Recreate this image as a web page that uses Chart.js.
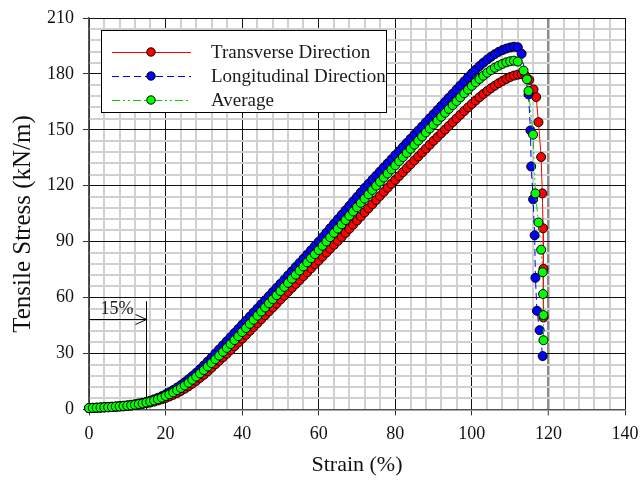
<!DOCTYPE html>
<html>
<head>
<meta charset="utf-8">
<title>Tensile Stress vs Strain</title>
<script src="https://cdn.jsdelivr.net/npm/chart.js@4.4.0/dist/chart.umd.min.js"></script>
<style>
  html, body { margin: 0; padding: 0; background: #fff; }
  #wrap { width: 640px; height: 487px; }
</style>
</head>
<body>
<div id="wrap"><canvas id="chart" width="640" height="487"></canvas></div>
<script>
// strain steps (%) of the logged test points before rupture
const strainSteps = [
  0, 1, 2, 3, 4, 5, 6, 7, 8, 9, 10, 11, 12, 13, 14, 15, 16, 17, 18, 19,
  20, 21, 22, 23, 24, 25, 26, 27, 28, 29, 30, 31, 32, 33, 34, 35, 36, 37, 38, 39,
  40, 41, 42, 43, 44, 45, 46, 47, 48, 49, 50, 51, 52, 53, 54, 55, 56, 57, 58, 59,
  60, 61, 62, 63, 64, 65, 66, 67, 68, 69, 70, 71, 72, 73, 74, 75, 76, 77, 78, 79,
  80, 81, 82, 83, 84, 85, 86, 87, 88, 89, 90, 91, 92, 93, 94, 95, 96, 97, 98, 99,
  100, 101, 102, 103, 104, 105, 106, 107, 108, 109, 110, 111, 112, 113, 114, 115
];

// Transverse direction (kN/m)
const transStress = [
  0.6, 0.7, 0.8, 0.9, 1.0, 1.1, 1.2, 1.3, 1.5, 1.6,
  1.8, 2.0, 2.3, 2.6, 2.9, 3.3, 3.7, 4.2, 4.8, 5.4,
  6.1, 6.9, 7.8, 8.8, 9.9, 11.1, 12.4, 13.8, 15.3, 16.9,
  18.6, 20.4, 22.3, 24.2, 26.1, 28.0, 29.9, 31.9, 33.9, 35.9,
  37.9, 40.0, 42.1, 44.2, 46.3, 48.4, 50.5, 52.6, 54.7, 56.8,
  58.9, 61.0, 63.1, 65.2, 67.3, 69.4, 71.5, 73.6, 75.7, 77.8,
  79.9, 82.0, 84.1, 86.2, 88.3, 90.4, 92.5, 94.7, 96.9, 99.1,
  101.3, 103.5, 105.7, 107.9, 110.1, 112.3, 114.5, 116.7, 118.9, 121.0,
  123.1, 125.2, 127.3, 129.4, 131.5, 133.6, 135.7, 137.8, 139.9, 142.0,
  144.1, 146.1, 148.1, 150.1, 152.1, 154.1, 156.1, 158.1, 160.1, 162.0,
  163.9, 165.7, 167.5, 169.2, 170.8, 172.3, 173.7, 175.0, 176.2, 177.3,
  178.3, 179.1, 179.6, 179.8, 179.0, 176.8
];
const transDropStrain = [116.1, 116.8, 117.4, 118.1, 118.4, 118.6, 118.7, 118.7];
const transDropStress = [171.7, 167.6, 154.1, 135.4, 115.9, 97.2, 75.4, 49.3];

// Longitudinal direction (kN/m)
const longStress = [
  0.8, 0.9, 1.0, 1.1, 1.2, 1.3, 1.5, 1.6, 1.8, 2.0,
  2.2, 2.5, 2.8, 3.2, 3.6, 4.1, 4.7, 5.4, 6.2, 7.1,
  8.1, 9.2, 10.4, 11.7, 13.1, 14.6, 16.2, 17.9, 19.7, 21.6,
  23.6, 25.7, 27.8, 30.0, 32.2, 34.4, 36.6, 38.8, 41.0, 43.2,
  45.4, 47.6, 49.8, 52.0, 54.2, 56.4, 58.6, 60.8, 63.0, 65.2,
  67.4, 69.6, 71.9, 74.1, 76.4, 78.6, 80.9, 83.1, 85.4, 87.7,
  90.0, 92.4, 94.8, 97.2, 99.6, 102.0, 104.4, 106.8, 109.2, 111.6,
  114.0, 116.4, 118.8, 121.0, 123.2, 125.4, 127.6, 129.8, 132.0, 134.2,
  136.4, 138.6, 140.8, 143.0, 145.2, 147.4, 149.6, 151.8, 154.0, 156.2,
  158.4, 160.6, 162.8, 165.0, 167.2, 169.4, 171.6, 173.8, 176.0, 178.2,
  180.3, 182.3, 184.2, 186.0, 187.7, 189.2, 190.6, 191.8, 192.8, 193.6,
  194.2, 194.6, 194.3, 190.8
];
const longDropStrain = [114.8, 115.3, 115.5, 116.0, 116.4, 116.6, 117.0, 117.7, 118.5];
const longDropStress = [169.0, 149.7, 130.3, 112.7, 93.4, 70.6, 52.9, 42.5, 28.6];

// Average of both directions (kN/m)
const avgStress = [
  0.7, 0.8, 0.9, 1.0, 1.1, 1.2, 1.3, 1.5, 1.6, 1.8,
  2.0, 2.2, 2.5, 2.9, 3.2, 3.7, 4.2, 4.8, 5.5, 6.3,
  7.2, 8.1, 9.1, 10.3, 11.5, 12.8, 14.3, 15.9, 17.6, 19.3,
  21.1, 23.0, 24.9, 26.9, 28.9, 30.9, 33.0, 35.1, 37.2, 39.3,
  41.5, 43.7, 45.9, 48.1, 50.3, 52.5, 54.7, 56.9, 59.1, 61.3,
  63.5, 65.7, 67.9, 70.1, 72.3, 74.5, 76.7, 78.9, 81.1, 83.3,
  85.5, 87.8, 90.1, 92.4, 94.7, 97.0, 99.3, 101.6, 103.9, 106.2,
  108.5, 110.8, 113.1, 115.4, 117.7, 120.0, 122.2, 124.4, 126.6, 128.8,
  131.0, 133.2, 135.4, 137.6, 139.8, 142.0, 144.2, 146.4, 148.6, 150.7,
  152.8, 154.9, 157.0, 159.1, 161.2, 163.3, 165.4, 167.5, 169.6, 171.6,
  173.6, 175.5, 177.3, 179.0, 180.6, 182.0, 183.3, 184.4, 185.4, 186.2,
  186.8, 187.1, 186.6
];
const avgDropStrain = [113.5, 114.4, 114.8, 116.0, 116.6, 117.4, 118.1, 118.5, 118.6, 118.7, 118.7];
const avgDropStress = [181.8, 177.1, 170.8, 147.4, 115.9, 100.3, 85.7, 73.6, 61.9, 50.6, 37.1];

const seriesNames = ['Transverse Direction', 'Longitudinal Direction', 'Average'];
const yTitle = 'Tensile Stress (kN/m)';
const xLabelStep = 20, xGridStep = 4;
const yLabelStep = 30, yGridStep = 6;
const markStrain = 15;   // reference strain marker

const serif = 'Liberation Serif, "Times New Roman", serif';

function toPoints(stress, dropStrain, dropStress) {
  const pts = stress.map((v, i) => ({ x: strainSteps[i], y: v }));
  dropStrain.forEach((s, i) => pts.push({ x: s, y: dropStress[i] }));
  return pts;
}

function stepTicks(min, max, step) {
  const out = [];
  for (let v = min; v <= max + 1e-9; v += step) out.push({ value: Math.round(v * 1000) / 1000 });
  return out;
}

const tickVal = ctx => (ctx.tick ? ctx.tick.value : 0);

// legend drawn inside the plot in a framed box
const boxLegend = {
  id: 'boxLegend',
  afterDraw(chart) {
    const ctx = chart.ctx;
    ctx.save();
    ctx.fillStyle = '#fff';
    ctx.fillRect(101.5, 30.5, 285, 82);
    ctx.strokeStyle = '#000';
    ctx.lineWidth = 1;
    ctx.strokeRect(101.5, 30.5, 285, 82);
    chart.data.datasets.forEach((ds, i) => {
      const y = 52 + i * 24;
      ctx.setLineDash(ds.borderDash || []);
      ctx.strokeStyle = ds.borderColor;
      ctx.lineWidth = 1;
      ctx.beginPath();
      ctx.moveTo(112, y + 0.5);
      ctx.lineTo(191, y + 0.5);
      ctx.stroke();
      ctx.setLineDash([]);
      ctx.beginPath();
      ctx.arc(151, y, 4.2, 0, Math.PI * 2);
      ctx.fillStyle = ds.pointBackgroundColor;
      ctx.fill();
      ctx.strokeStyle = '#000';
      ctx.stroke();
      ctx.fillStyle = '#1a1a1a';
      ctx.font = '19px ' + serif;
      ctx.textBaseline = 'middle';
      ctx.fillText(ds.label, 211, y + 1);
    });
    ctx.restore();
  }
};

// rotated y-axis title, set slightly below the plot centre
const sideTitle = {
  id: 'sideTitle',
  afterDraw(chart) {
    const ctx = chart.ctx;
    ctx.save();
    ctx.translate(23, 224);
    ctx.rotate(-Math.PI / 2);
    ctx.fillStyle = '#111';
    ctx.font = '25px ' + serif;
    ctx.textAlign = 'center';
    ctx.textBaseline = 'middle';
    ctx.fillText(yTitle, 0, 0);
    ctx.restore();
  }
};

// 15 % strain marker with arrow
const strainMark = {
  id: 'strainMark',
  beforeDatasetsDraw(chart) {
    const { ctx, scales: { x, y } } = chart;
    const px = Math.round(x.getPixelForValue(markStrain)) + 0.5;
    const top = y.getPixelForValue(58);
    const base = y.getPixelForValue(0);
    const ay = Math.round(y.getPixelForValue(48.5)) + 0.5;
    const x0 = x.getPixelForValue(0);
    ctx.save();
    ctx.strokeStyle = '#000';
    ctx.lineWidth = 1;
    ctx.beginPath();
    ctx.moveTo(px, top);
    ctx.lineTo(px, base);
    ctx.moveTo(x0, ay);
    ctx.lineTo(px, ay);
    ctx.moveTo(px - 11, ay - 5);
    ctx.lineTo(px, ay);
    ctx.lineTo(px - 11, ay + 5);
    ctx.stroke();
    ctx.fillStyle = '#1a1a1a';
    ctx.font = '18px ' + serif;
    ctx.textBaseline = 'alphabetic';
    ctx.fillText(markStrain + '%', x.getPixelForValue(3), ay - 6);
    ctx.restore();
  }
};

const common = {
  showLine: true,
  borderWidth: 1,
  pointRadius: 4.5,
  pointBorderColor: '#000',
  pointBorderWidth: 1,
  tension: 0,
  clip: false
};

new Chart(document.getElementById('chart'), {
  type: 'scatter',
  data: {
    datasets: [
      Object.assign({}, common, {
        label: seriesNames[0],
        data: toPoints(transStress, transDropStrain, transDropStress),
        borderColor: '#ff0000',
        backgroundColor: '#ff0000',
        pointBackgroundColor: '#ff0000',
        borderDash: [],
        order: 2
      }),
      Object.assign({}, common, {
        label: seriesNames[1],
        data: toPoints(longStress, longDropStrain, longDropStress),
        borderColor: '#0000ff',
        backgroundColor: '#0000ff',
        pointBackgroundColor: '#0000ff',
        borderDash: [7, 4],
        order: 1
      }),
      Object.assign({}, common, {
        label: seriesNames[2],
        data: toPoints(avgStress, avgDropStrain, avgDropStress),
        borderColor: '#00cc00',
        backgroundColor: '#00ff00',
        pointBackgroundColor: '#00ff00',
        borderDash: [8, 3, 2, 3, 2, 3],
        order: 0
      })
    ]
  },
  options: {
    responsive: false,
    animation: false,
    events: [],
    layout: { padding: { left: 0, right: 15, top: 18, bottom: 0 } },
    plugins: { legend: { display: false }, tooltip: { enabled: false } },
    scales: {
      x: {
        type: 'linear',
        min: 0,
        max: 140,
        afterBuildTicks: s => { s.ticks = stepTicks(0, 140, xGridStep); },
        afterFit: s => { s.height = 77.6; s.paddingLeft = 0; s.paddingRight = 0; },
        ticks: {
          autoSkip: false,
          maxRotation: 0,
          padding: 8,
          color: '#111',
          font: { family: serif, size: 18 },
          callback: v => (v % xLabelStep === 0 ? v : '')
        },
        grid: {
          color: ctx => {
            const v = tickVal(ctx);
            if (v === 120) return '#8c8c8c';
            return v % xLabelStep === 0 ? '#111' : '#d0d0d0';
          },
          lineWidth: ctx => {
            const v = tickVal(ctx);
            if (v === 120) return 2.5;
            return v % xLabelStep === 0 ? 1 : 2;
          },
          tickColor: ctx => (tickVal(ctx) % xLabelStep === 0 ? '#333' : 'rgba(0,0,0,0)'),
          tickLength: 6,
          tickWidth: 1
        },
        border: { color: '#555', width: 1.5 },
        title: {
          display: true,
          text: 'Strain (%)',
          color: '#111',
          font: { family: serif, size: 22 },
          padding: { top: 0, bottom: 9 }
        }
      },
      y: {
        type: 'linear',
        min: 0,
        max: 210,
        afterBuildTicks: s => { s.ticks = stepTicks(0, 210, yGridStep); },
        afterFit: s => { s.width = 89; s.paddingTop = 0; s.paddingBottom = 0; },
        ticks: {
          autoSkip: false,
          padding: 9,
          color: '#111',
          font: { family: serif, size: 18 },
          callback: v => (v % yLabelStep === 0 ? v : '')
        },
        grid: {
          color: ctx => (tickVal(ctx) % yLabelStep === 0 ? '#111' : '#d0d0d0'),
          lineWidth: ctx => (tickVal(ctx) % yLabelStep === 0 ? 1 : 2),
          tickColor: ctx => (tickVal(ctx) % yLabelStep === 0 ? '#333' : 'rgba(0,0,0,0)'),
          tickLength: 6,
          tickWidth: 1
        },
        border: { color: '#555', width: 1.5 },
        title: { display: false }
      }
    }
  },
  plugins: [strainMark, boxLegend, sideTitle]
});
</script>
</body>
</html>
